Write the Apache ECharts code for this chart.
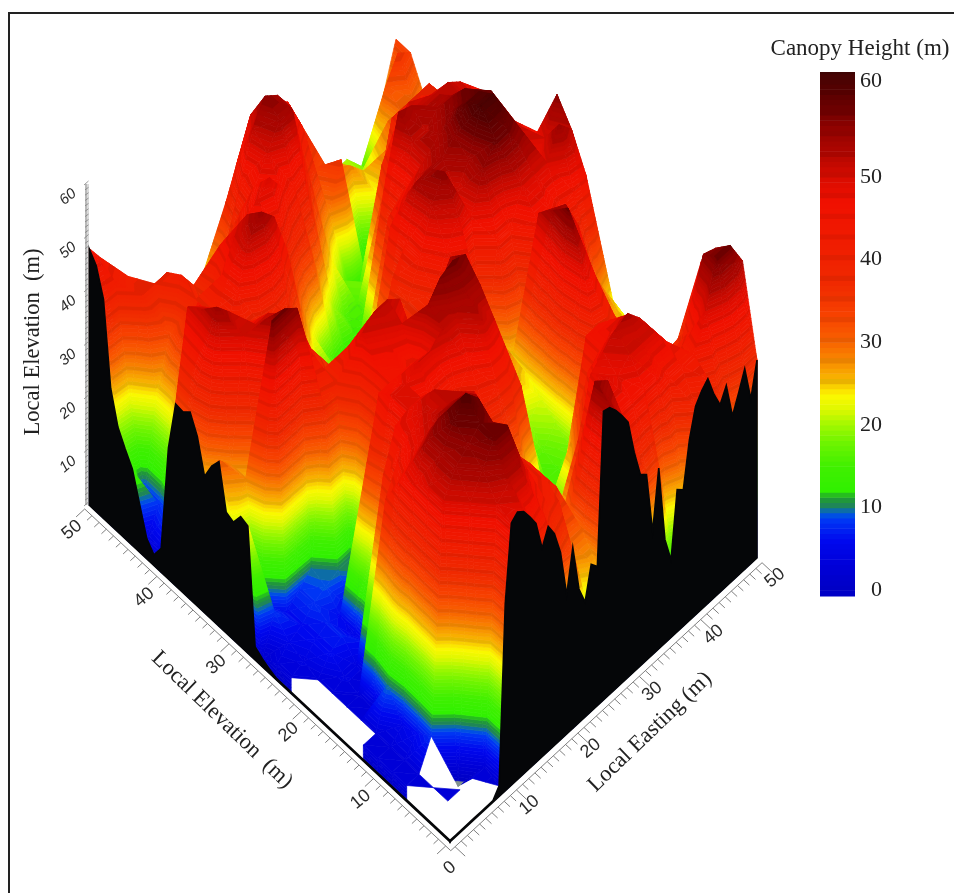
<!DOCTYPE html>
<html><head><meta charset="utf-8"><style>html,body{margin:0;padding:0;background:#fff}#c{width:954px;height:893px}</style>
<script src="https://cdn.jsdelivr.net/npm/echarts@6/dist/echarts.min.js"></script></head><body><div id="c"></div>
<script>
const N = null;
// Canopy height (m): one row per Local Elevation (0..50 step 2), one value per Local Easting (0..50 step 2)
const r00=[N,N,N,N,2,49,49,44,42,35,33,22,26,54,50,41,35,34,16,26,39,42,35,31,37,37];
const r02=[N,3,3,3,3,50,52,52,46,42,40,30,30,56,54,46,46,46,46,44,44,44,50,58,58,53];
const r04=[N,3,N,-1,50,54,58,58,50,44,42,38,30,42,46,50,48,50,50,50,46,42,44,56,55,50];
const r06=[3,3,8,50,54,56,58,56,48,44,42,37,22,20,38,48,50,52,53,50,44,38,36,40,50,48];
const r08=[3,3,6,50,54,58,61,58,50,45,38,22,18,20,18,30,44,46,48,48,44,40,34,33,32,30];
const r10=[3,3,5,48,54,56,56,56,54,48,38,28,26,22,16,16,30,46,46,44,42,38,34,26,26,24];
const r12=[3,3,10,46,48,50,52,52,52,50,44,36,30,28,18,15,15,16,24,38,40,36,32,24,24,22];
const r14=[N,3,3,40,45,48,50,52,48,44,42,40,42,42,38,16,16,16,18,50,46,38,30,24,22,22];
const r16=[N,3,3,3,40,47,48,48,44,42,42,46,52,50,40,30,16,17,20,58,50,42,32,26,24,22];
const r18=[N,3,4,4,6,30,48,48,50,50,52,52,54,54,44,28,22,20,22,55,54,48,38,28,26,22];
const r20=[N,3,6,7,5,35,46,46,46,44,54,57,58,57,46,34,24,26,24,52,50,48,44,34,28,23];
const r22=[3,4,6,7,6,5,10,46,48,50,45,36,50,54,50,42,32,30,24,30,46,46,44,45,46,24];
const r24=[3,5,6,8,9,10,10,50,52,52,50,40,30,30,34,40,42,24,44,44,50,50,50,55,52,42];
const r26=[1.5,8,6,8,10,38,40,45,45,38,36,32,30,38,40,46,50,48,55,58,58,56,46,50,56,45];
const r28=[24,7,58,58,56,46,40,36,26,16,14,24,36,38,44,52,56,50,54,62,62,56,52,46,46,36];
const r30=[22,28,25,54,52,50,42,38,34,26,20,22,30,40,44,54,54,54,56,60,60,58,52,48,44,38];
const r32=[31,28,50,50,50,46,42,38,30,22,15,14,16,22,45,48,50,52,54,56,58,55,50,46,42,36];
const r34=[26,55,52,46,46,42,40,40,30,22,16,14,14,15,16,42,44,52,52,54,54,52,50,44,42,36];
const r36=[35,52,50,46,40,38,38,40,38,28,22,16,17,14,13,18,45,55,54,52,52,52,50,47,44,40];
const r38=[34,50,48,44,40,44,52,55,52,44,32,24,18,15,13,14,15,38,48,50,48,46,46,44,42,38];
const r40=[4.5,10,30,44,40,45,50,52,50,46,42,38,36,26,20,16,16,18,38,40,44,44,42,40,36,34];
const r42=[3.8,8,24,36,40,36,46,46,46,48,50,46,44,42,30,24,18,11,12,24,40,40,40,40,36,32];
const r44=[14,8,24,33,42,38,30,30,40,44,46,50,54,54,42,32,28,36,1,12,23,30,32,32,32,30];
const r46=[20,22,40,40,40,26,24,26,24,36,44,52,56,54,50,44,34,32,30,28,25,23,30,30,30,28];
const r48=[41,42,41,30,28,26,24,22,22,20,38,44,50,50,48,46,40,29,27,26,22,20,18,32,36,34];
const r50=[48,44,30,28,26,24,24,24,24,22,15,30,38,42,44,42,40,34,24,22,20,20,15,13,26,34];
const heightRows=[r00,r02,r04,r06,r08,r10,r12,r14,r16,r18,r20,r22,r24,r26,r28,r30,r32,r34,r36,r38,r40,r42,r44,r46,r48,r50];
// Height along the two front faces of the block, 0..50 step 1
const edgeEasting=[.3,.3,.3,.3,.3,.3,.3,.3,2,35,49,50,49,47,44.7,39,42,39.6,35,26,33.8,25,21.5,27.5,26,54,53.6,52,50,47.7,41,35.8,34.7,23,33.8,19.4,14.5,26.6,25.5,33.8,39,40.8,42,38,35,37.5,30.8,34,37.5,30.8,37];
const edgeElevation=[.3,.3,.3,.3,.3,.3,.3,.3,.3,.3,.3,.3,.3,.3,.3,.3,.3,.3,.3,.3,.3,.3,.3,.3,.3,.8,1.5,2.5,23.8,24.3,22,22.6,30.8,28.7,25.5,31.7,35,33.8,34,24.5,4.5,2,3.8,9,14.3,16.8,19.6,25.6,41,46,48];
const groundTicks=[0,10,20,30,40,50];
const heightTicks=[10,20,30,40,50,60];
const barTicks=[0,10,20,30,40,50,61.6];

const colorStops=[[-3,'#80908f'],[-0.01,'#80908f'],[0,'#0000c4'],[3,'#0000d8'],[6,'#0008ee'],[8.6,'#0038f4'],[9.4,'#0060d8'],[10,'#1c7c70'],[10.5,'#208c48'],[11.3,'#20a030'],[12,'#30f000'],[15,'#40f000'],[18,'#70f400'],[20,'#a0f800'],[22,'#e0f800'],[23.6,'#fcf800'],[25,'#f8c400'],[27,'#f89800'],[30,'#f86400'],[33,'#f84400'],[37,'#f02a00'],[42,'#f01c00'],[47,'#f01000'],[50,'#d80c00'],[53,'#b00600'],[56,'#900200'],[58,'#700000'],[60,'#5c0000'],[63,'#400404']];
function hex(s){return [parseInt(s.slice(1,3),16),parseInt(s.slice(3,5),16),parseInt(s.slice(5,7),16)];}
function colorAt(z,dark){
  let i=0; while(i<colorStops.length-2&&z>colorStops[i+1][0])i++;
  const a=colorStops[i],b=colorStops[i+1],t=Math.max(0,Math.min(1,(z-a[0])/(b[0]-a[0])));
  const ca=hex(a[1]),cb=hex(b[1]),k=dark?0.94:1;
  return 'rgb('+[0,1,2].map(j=>Math.round((ca[j]+(cb[j]-ca[j])*t)*k)).join(',')+')';
}
const bandStep=0.625, bandMin=-2.5, bandCount=105;
const bands=[];
for(let i=0;i<bandCount;i++){const a=bandMin+i*bandStep;bands.push({a:a,b:a+bandStep,color:colorAt(a+bandStep/2,i%4===0&&a>=24)});}

// Oblique view: ground axes and height scale, in pixels of the page
const ORIGIN=[450,842], EAST=[6.14,-5.68], NORTH=[-7.22,-6.74], UP=5.35;
function project(u,v,z){return [ORIGIN[0]+EAST[0]*u+NORTH[0]*v, ORIGIN[1]+EAST[1]*u+NORTH[1]*v-UP*z];}

function clip(poly,level,keepAbove){
  const out=[];
  for(let i=0;i<poly.length;i++){
    const p=poly[i],q=poly[(i+1)%poly.length];
    const pin=keepAbove?p[2]>=level:p[2]<=level, qin=keepAbove?q[2]>=level:q[2]<=level;
    if(pin)out.push(p);
    if(pin!==qin){const t=(level-p[2])/(q[2]-p[2]);out.push([p[0]+(q[0]-p[0])*t,p[1]+(q[1]-p[1])*t,level]);}
  }
  return out;
}
function triangleShapes(api,tri,children){
  const zs=tri.map(p=>p[2]),lo=Math.min(...zs),hi=Math.max(...zs);
  const pts=tri.map(p=>{const s=project(p[0],p[1],p[2]);return [s[0],s[1],p[2]];});
  let first=Math.max(0,Math.floor((lo-bandMin)/bandStep)),last=Math.min(bandCount-1,Math.floor((hi-bandMin)/bandStep));
  for(let i=first;i<=last;i++){
    const band=bands[i];
    let poly=clip(clip(pts,band.a,true),band.b,false);
    if(poly.length<3)continue;
    children.push({type:'polygon',silent:true,shape:{points:poly.map(p=>api.coord([p[0],p[1]]))},style:{fill:band.color,stroke:band.color,lineWidth:0.7}});
  }
}
const cellData=[];
for(let j=heightRows.length-2;j>=0;j--)for(let i=heightRows[0].length-2;i>=0;i--)cellData.push([i,j]);
function renderCell(params,api){
  const i=api.value(0),j=api.value(1),children=[];
  const pt=(a,b)=>[a*2,b*2,heightRows[b][a]];
  const back=[pt(i+1,j+1),pt(i+1,j),pt(i,j+1)],front=[pt(i,j),pt(i+1,j),pt(i,j+1)];
  if(back.every(p=>p[2]!==null))triangleShapes(api,back,children);
  if(front.every(p=>p[2]!==null))triangleShapes(api,front,children);
  return {type:'group',children:children};
}
const skirtData=[];
for(let i=0;i<heightRows.length-1;i++){skirtData.push([0,i]);skirtData.push([1,i]);}
function renderSkirt(params,api){
  const side=api.value(0),i=api.value(1),children=[];
  const h=side===0?[heightRows[0][i],heightRows[0][i+1]]:[heightRows[i][0],heightRows[i+1][0]];
  if(h[0]===null||h[1]===null)return {type:'group',children:[]};
  const P=(t,z)=>side===0?[t*2,0,z]:[0,t*2,z];
  triangleShapes(api,[P(i,h[0]),P(i+1,h[1]),P(i,0)],children);
  triangleShapes(api,[P(i+1,h[1]),P(i+1,0),P(i,0)],children);
  return {type:'group',children:children};
}
function renderWall(params,api){
  const which=api.value(0),pts=[];
  const arr=which===0?edgeEasting:edgeElevation;
  const at=(t,z)=>which===0?project(t,0,z):project(0,t,z);
  arr.forEach((z,t)=>pts.push(api.coord(at(t,z))));
  pts.push(api.coord(at(50,0)));pts.push(api.coord(at(0,0)));
  return {type:'polygon',silent:true,shape:{points:pts},style:{fill:'#050608',stroke:'#050608',lineWidth:1.6}};
}
function renderAxes(params,api){
  const c=[];const grey='#808080';
  const line=(a,b,w)=>c.push({type:'line',silent:true,shape:{x1:a[0],y1:a[1],x2:b[0],y2:b[1]},style:{stroke:grey,lineWidth:w||1,fill:null}});
  const co=p=>api.coord(p);
  const off=-0.7;
  line(co(project(off,off,0)),co(project(off,50,0)));
  line(co(project(off,off,0)),co(project(50,off,0)));
  for(let t=0;t<=50;t++){
    const len=t%10===0?-2.1:-1.5;
    line(co(project(off,t,0)),co(project(len,t,0)));
    line(co(project(t,off,0)),co(project(t,len,0)));
  }
  const top=co(project(0,50,60)),bot=co(project(0,50,0));
  c.push({type:'line',silent:true,shape:{x1:bot[0]-3,y1:bot[1],x2:top[0]-3,y2:top[1]},style:{stroke:'#8a8a8a',lineWidth:1.2}});
  c.push({type:'line',silent:true,shape:{x1:bot[0]-1,y1:bot[1],x2:top[0]-1,y2:top[1]},style:{stroke:'#b5b5b5',lineWidth:1}});
  for(let h=0;h<=60;h++){
    const p=co(project(0,50,h)),major=h%10===0;
    c.push({type:'line',silent:true,shape:{x1:p[0]-(major?5:4),y1:p[1]+(major?1:0.5),x2:p[0]-0.5,y2:p[1]-(major?3:2)},style:{stroke:grey,lineWidth:0.8}});
  }
  const label=(txt,p,dx,dy,rot,font)=>{const q=co(p);c.push({type:'text',silent:true,x:q[0]+dx,y:q[1]+dy,rotation:rot,style:{text:String(txt),font:font,fill:'#2a2a2a',align:'center',verticalAlign:'middle'}});};
  const tf='18px "Liberation Sans", Arial, sans-serif';
  const rot=40*Math.PI/180;
  groundTicks.forEach(t=>{
    if(t===0){label(0,project(0,0,0),0,26,rot,tf);return;}
    label(t,project(0,t,0),-17,25,rot,tf);
    label(t,project(t,0,0),18,20,rot,tf);
  });
  heightTicks.forEach(h=>label(h,project(0,50,h),-21,13,rot,'italic 15px "Liberation Sans", Arial, sans-serif'));
  return {type:'group',children:c};
}
function renderBar(params,api){
  const a=api.value(0),b=api.value(1),col=bands[api.value(2)].color;
  const p=api.coord([0,a]),q=api.coord([1,b]);
  return {type:'rect',silent:true,shape:{x:p[0],y:q[1],width:q[0]-p[0],height:p[1]-q[1]+0.6},style:{fill:col}};
}
const barMin=-0.7, barMax=62.7;
const barData=[];
bands.forEach((b,i)=>{if(b.b<=0||b.a>=barMax)return;barData.push([b.a,Math.min(b.b,barMax),i]);});
barData.unshift([barMin,0,bands.findIndex(b=>b.a>=0)]);

const chart=echarts.init(document.getElementById('c'),null,{renderer:'canvas'});
const serif='"Liberation Serif","Times New Roman",serif';
chart.setOption({
  animation:false,
  backgroundColor:'#fff',
  grid:[{left:0,top:0,width:954,height:893,containLabel:false},{left:820,top:72,width:35,height:524}],
  xAxis:[{type:'value',min:0,max:954,show:false,gridIndex:0},{type:'value',min:0,max:1,show:false,gridIndex:1}],
  yAxis:[{type:'value',min:0,max:893,inverse:true,show:false,gridIndex:0},
    {type:'value',min:barMin,max:barMax,gridIndex:1,position:'right',splitLine:{show:false},axisLine:{show:false},axisTick:{show:false},
     axisLabel:{customValues:barTicks,formatter:v=>String(Math.floor(v/10)*10),fontFamily:serif,fontSize:22,color:'#222',align:'right',margin:27}}],
  series:[
    {type:'custom',coordinateSystem:'cartesian2d',xAxisIndex:0,yAxisIndex:0,clip:false,renderItem:renderCell,data:cellData,progressive:0,silent:true,encode:{x:0,y:1}},
    {type:'custom',coordinateSystem:'cartesian2d',xAxisIndex:0,yAxisIndex:0,clip:false,renderItem:renderSkirt,data:skirtData,progressive:0,silent:true,encode:{x:0,y:1}},
    {type:'custom',coordinateSystem:'cartesian2d',xAxisIndex:0,yAxisIndex:0,clip:false,renderItem:renderWall,data:[[1,0],[0,0]],progressive:0,silent:true,encode:{x:0,y:1}},
    {type:'custom',coordinateSystem:'cartesian2d',xAxisIndex:0,yAxisIndex:0,clip:false,renderItem:renderAxes,data:[[0,0]],progressive:0,silent:true,encode:{x:0,y:1}},
    {type:'custom',coordinateSystem:'cartesian2d',xAxisIndex:1,yAxisIndex:1,clip:false,renderItem:renderBar,data:barData,progressive:0,silent:true,encode:{y:[0,1]}}
  ],
  graphic:[
    {type:'rect',silent:true,shape:{x:9,y:13,width:960,height:900},style:{fill:null,stroke:'#222',lineWidth:2}},
    {type:'text',silent:true,x:860,y:49,style:{text:'Canopy Height (m)',font:'23px '+serif,fill:'#222',align:'center',verticalAlign:'middle'}},
    {type:'text',silent:true,x:33,y:342,rotation:Math.PI/2,style:{text:'Local Elevation  (m)',font:'22.5px '+serif,fill:'#222',align:'center',verticalAlign:'middle'}},
    {type:'text',silent:true,x:222,y:720,rotation:-44*Math.PI/180,style:{text:'Local Elevation  (m)',font:'22.5px '+serif,fill:'#222',align:'center',verticalAlign:'middle'}},
    {type:'text',silent:true,x:650,y:732,rotation:44*Math.PI/180,style:{text:'Local Easting (m)',font:'22.5px '+serif,fill:'#222',align:'center',verticalAlign:'middle'}}
  ]
});
</script></body></html>
